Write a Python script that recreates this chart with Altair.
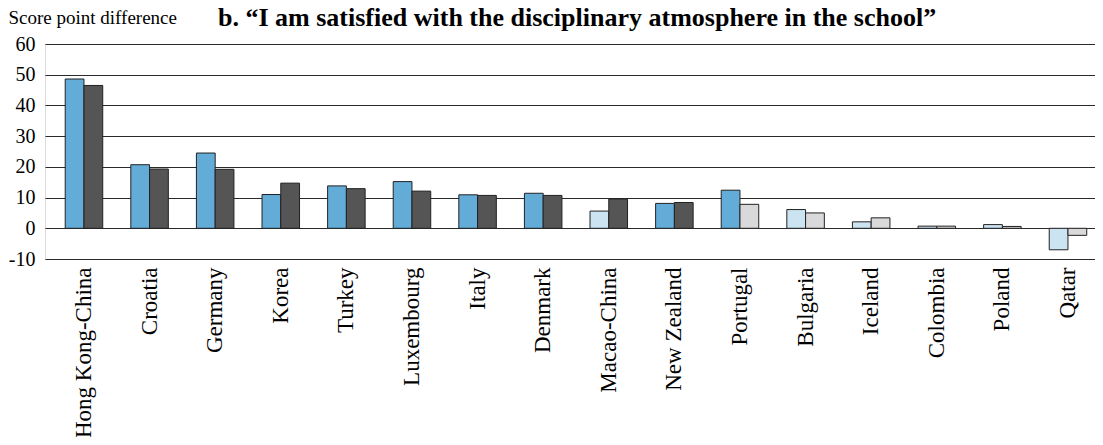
import altair as alt
import pandas as pd

countries = ["Hong Kong-China", "Croatia", "Germany", "Korea", "Turkey", "Luxembourg",
             "Italy", "Denmark", "Macao-China", "New Zealand", "Portugal", "Bulgaria",
             "Iceland", "Colombia", "Poland", "Qatar"]
series1 = [48.6, 20.7, 24.5, 11.0, 13.8, 15.2, 10.9, 11.4, 5.6, 8.1, 12.4, 6.1, 2.1, 0.7, 1.2, -7.0]
series2 = [46.5, 19.3, 19.2, 14.7, 12.9, 12.1, 10.7, 10.7, 9.5, 8.4, 7.8, 5.0, 3.4, 0.7, 0.6, -2.3]
sig1 = [True, True, True, True, True, True, True, True, False, True, True, False, False, False, False, False]
sig2 = [True, True, True, True, True, True, True, True, True, True, False, False, False, False, False, False]
series_names = ["s1", "s2"]
y_ticks = [60, 50, 40, 30, 20, 10, 0, -10]
title_text = ["b. \u201cI am satisfied with the disciplinary atmosphere in the school\u201d"]

rows = []
for i, c in enumerate(countries):
    rows.append({"country": c, "series": "s1", "value": series1[i],
                 "kind": "s1_sig" if sig1[i] else "s1_ns"})
    rows.append({"country": c, "series": "s2", "value": series2[i],
                 "kind": "s2_sig" if sig2[i] else "s2_ns"})
df = pd.DataFrame(rows)

FONT = "Liberation Serif"

bars = alt.Chart(df).mark_bar(stroke="#222222", strokeWidth=1).encode(
    x=alt.X("country:N", sort=countries,
            scale=alt.Scale(paddingInner=0.428, paddingOuter=0.217, align=0.71),
            axis=alt.Axis(title=None, labelAngle=270, labelAlign="right", labelBaseline="middle",
                          labelFont=FONT, labelFontSize=23, labelColor="#000000",
                          labelPadding=8, ticks=False, domain=False, grid=False)),
    xOffset=alt.XOffset("series:N", sort=series_names, scale=alt.Scale(paddingInner=0, paddingOuter=0)),
    y=alt.Y("value:Q", scale=alt.Scale(domain=[-10, 60], nice=False, zero=False),
            axis=alt.Axis(values=y_ticks, labelExpr="'' + datum.value",
                          title="Score point difference", titleAngle=0,
                          titleAlign="left", titleBaseline="alphabetic", titleX=-37, titleY=-21,
                          titleFont=FONT, titleFontSize=19, titleFontWeight="normal", titleColor="#000000",
                          labelFont=FONT, labelFontSize=20, labelColor="#000000", labelPadding=10,
                          ticks=False, domain=False, grid=True, gridColor="#2a2a2a", gridWidth=1)),
    color=alt.Color("kind:N", legend=None,
                    scale=alt.Scale(domain=["s1_sig", "s1_ns", "s2_sig", "s2_ns"],
                                    range=["#63acd8", "#cce3f1", "#555555", "#d9d9db"])),
)

title = alt.Chart(pd.DataFrame({"t": title_text})).mark_text(
    font=FONT, fontSize=26, fontWeight="bold", color="#000000", align="left", baseline="alphabetic"
).encode(text="t:N", x=alt.value(173), y=alt.value(-18))

chart = alt.layer(bars, title).properties(
    width=1050, height=215,
    autosize=alt.AutoSizeParams(type="none"),
    padding={"left": 37, "top": 36, "right": 0, "bottom": 178},
).configure_view(stroke=None).configure(background="white")

chart.save("out.html", embed_options={"renderer": "svg", "actions": False})
